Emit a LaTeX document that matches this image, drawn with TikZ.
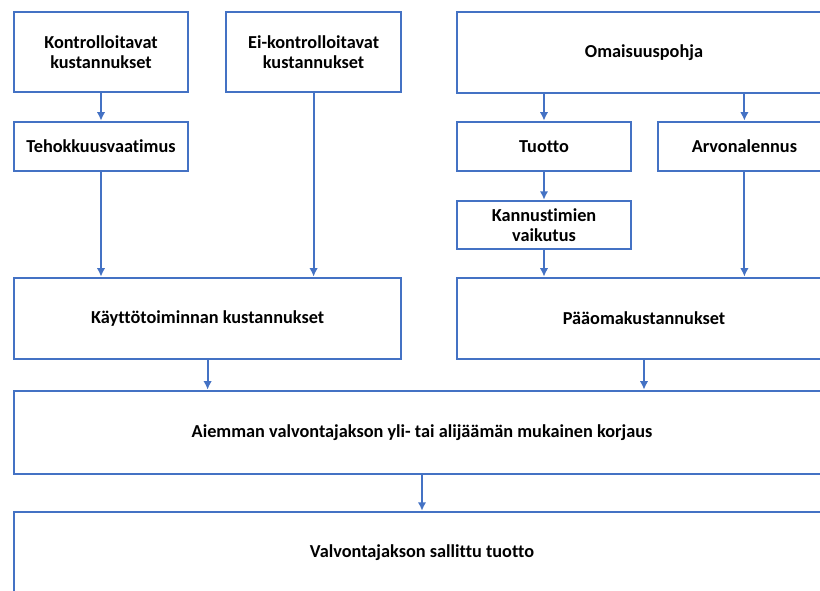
\documentclass[tikz,border=0pt]{standalone}
\usepackage{fontspec}
\setmainfont{Carlito}[Ligatures=NoCommon]
\usetikzlibrary{arrows.meta,positioning}
\definecolor{BoxBlue}{RGB}{68,114,196}

\begin{document}
\begin{tikzpicture}[>={Latex[length=6pt,width=6pt]},
    box/.style={draw=BoxBlue,line width=1.8pt,align=center,inner sep=0pt,
      font=\fontsize{13}{14.6}\selectfont\bfseries},
    link/.style={->,line width=1.4pt,BoxBlue}]
      \useasboundingbox (0,0) rectangle (20.5,14.75);
      \node[box,minimum width=4.35cm,minimum height=2cm] (kontr) at (2.525,13.45)
        {Kontrolloitavat\\kustannukset};
      \node[box,minimum width=4.375cm,minimum height=2cm] (eikontr) at (7.84,13.45)
        {Ei-kontrolloitavat\\kustannukset};
      \node[box,minimum width=9.35cm,minimum height=2.025cm] (omaisuus) at (16.1,13.44)
        {Omaisuuspohja};
      \node[box,minimum width=4.35cm,minimum height=1.225cm] (teho) at (2.525,11.09)
        {Tehokkuusvaatimus};
      \node[box,minimum width=4.35cm,minimum height=1.225cm] (tuotto) at (13.6,11.09)
        {Tuotto};
      \node[box,minimum width=4.325cm,minimum height=1.225cm] (arvo) at (18.61,11.09)
        {Arvonalennus};
      \node[box,minimum width=4.35cm,minimum height=1.2cm] (kannu) at (13.6,9.125)
        {Kannustimien\\vaikutus};
      \node[box,minimum width=9.675cm,minimum height=2.025cm] (kaytto) at (5.19,6.79)
        {Käyttötoiminnan kustannukset};
      \node[box,minimum width=9.35cm,minimum height=2.025cm] (paaoma) at (16.1,6.79)
        {Pääomakustannukset};
      \node[box,minimum width=20.4cm,minimum height=2.075cm] (aiemman) at (10.55,3.94)
        {Aiemman valvontajakson yli- tai alijäämän mukainen korjaus};
      \node[box,minimum width=20.4cm,minimum height=2.05cm] (valvonta) at (10.55,0.925)
        {Valvontajakson sallittu tuotto};
      \draw[link] (kontr) -- (teho);
      \draw[link] (teho) -- (teho |- kaytto.north);
      \draw[link] (eikontr) -- (eikontr |- kaytto.north);
      \draw[link] (omaisuus.south -| tuotto) -- (tuotto);
      \draw[link] (omaisuus.south -| arvo) -- (arvo);
      \draw[link] (tuotto) -- (kannu);
      \draw[link] (kannu) -- (kannu |- paaoma.north);
      \draw[link] (arvo) -- (arvo |- paaoma.north);
      \draw[link] (kaytto) -- (kaytto |- aiemman.north);
      \draw[link] (paaoma) -- (paaoma |- aiemman.north);
      \draw[link] (aiemman) -- (valvonta);
    \end{tikzpicture}
\end{document}
